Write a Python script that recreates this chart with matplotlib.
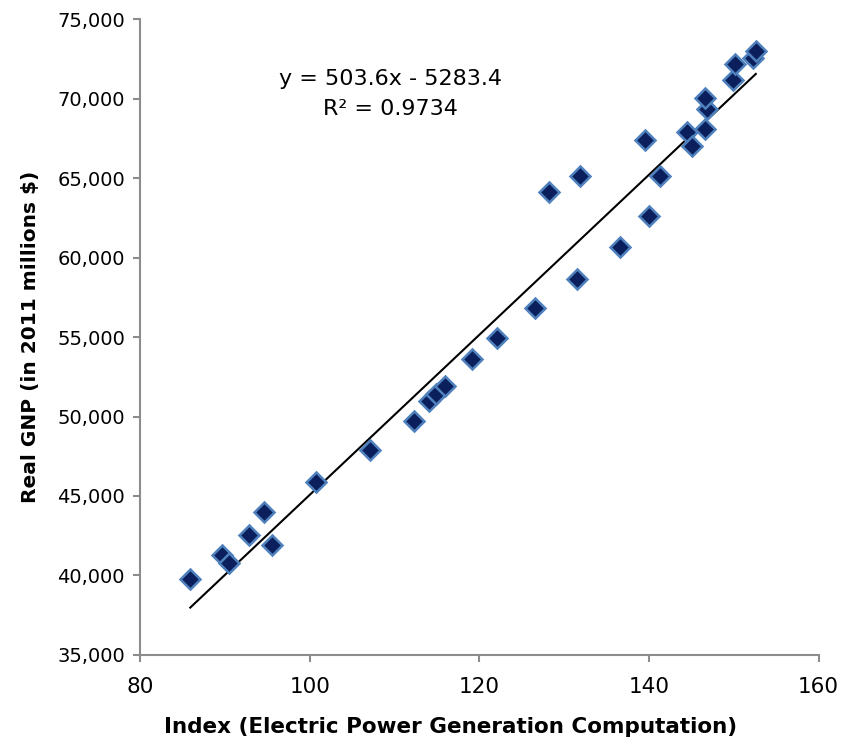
import numpy as np
import matplotlib
matplotlib.use("Agg")
import matplotlib.pyplot as plt
from matplotlib.ticker import FuncFormatter

# index values (x) and real GNP (y)
index_vals = [85.9, 89.6, 90.5, 92.8, 94.6, 95.5, 100.7, 107.1, 112.3, 114.0,
              114.9, 116.0, 119.1, 122.1, 126.5, 128.2, 131.5, 131.9, 136.6, 139.5,
              140.0, 141.3, 144.5, 145.1, 146.6, 146.9, 146.6, 149.9, 150.2, 152.3,
              152.6]
gnp_vals = [39780, 41300, 40790, 42570, 44010, 41940, 45880, 47910, 49750, 50950,
            51430, 51940, 53620, 54940, 56820, 64160, 58670, 65150, 60680, 67390,
            62650, 65160, 67930, 67050, 68100, 69360, 70030, 71180, 72170, 72590,
            73010]

# trendline from the chart label
slope = 503.6
intercept = -5283.4
r2 = 0.9734

fig = plt.figure(figsize=(8.5, 7.45), dpi=100)
ax = fig.add_axes([0.165, 0.121, 0.798, 0.853])

x = np.array(index_vals)
xs = np.array([x.min(), x.max()])
ax.plot(xs, slope * xs + intercept, color="black", lw=1.5, zorder=2)

ax.plot(index_vals, gnp_vals, linestyle="none", marker="D", markersize=10.5,
        markerfacecolor="#0a1f5c", markeredgecolor="#4f81bd", markeredgewidth=1.8,
        zorder=3)

ax.set_xlim(80, 160)
ax.set_ylim(35000, 75000)
ax.set_xticks([80, 100, 120, 140, 160])
ax.set_yticks(np.arange(35000, 75001, 5000))
ax.yaxis.set_major_formatter(FuncFormatter(lambda v, p: f"{int(v):,}"))

for s in ["top", "right"]:
    ax.spines[s].set_visible(False)
for s in ["left", "bottom"]:
    ax.spines[s].set_color("#8c8c8c")
    ax.spines[s].set_linewidth(1.5)
ax.tick_params(direction="out", length=5, width=1.5, color="#8c8c8c",
               labelcolor="black")
ax.tick_params(axis="y", labelsize=14, pad=6)
ax.tick_params(axis="x", labelsize=15.5, pad=11)

ax.set_xlabel("Index (Electric Power Generation Computation)", fontsize=15.5,
              fontweight="bold")
ax.xaxis.set_label_coords(0.457, -0.098)
ax.set_ylabel("Real GNP (in 2011 millions $)", fontsize=14.5,
              fontweight="bold", labelpad=12)

ax.text(109.5, 70300, f"y = {slope}x - {abs(intercept)}\nR² = {r2}",
        ha="center", va="center", fontsize=16, linespacing=1.6)

fig.savefig("out.png", dpi=100)
